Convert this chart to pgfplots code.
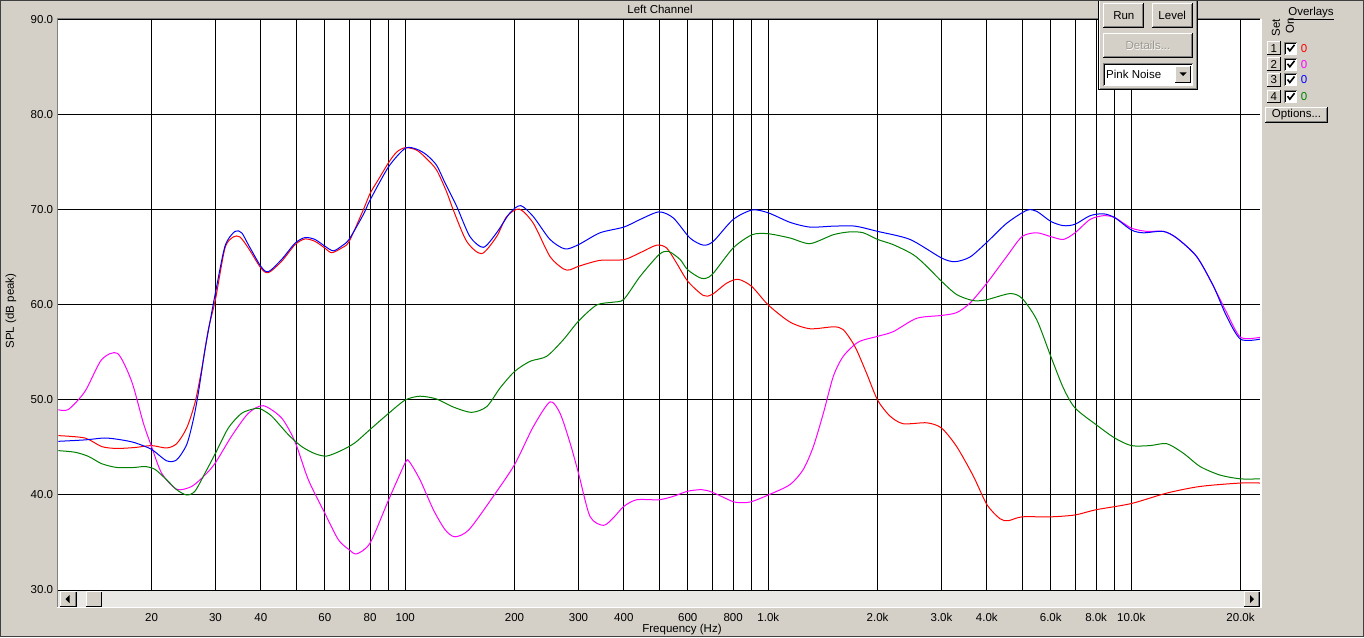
\documentclass[border=0pt]{standalone}
\usepackage{fontspec}
\setmainfont{Liberation Sans}
\usepackage{pgfplots}
\pgfplotsset{compat=1.18}
\definecolor{winbg}{HTML}{D4D0C8}
\definecolor{mag}{HTML}{FF00FF}
\definecolor{grn}{HTML}{008000}
\definecolor{dgray}{HTML}{808080}
\definecolor{scrollbg}{HTML}{EAE8E4}
\definecolor{disabled}{HTML}{9A9890}
\newcommand{\uifont}{\fontsize{11.5}{13}\selectfont}

\begin{document}
\uifont
\begin{tikzpicture}[x=1pt,y=1pt]
\useasboundingbox (0,0) rectangle (1364,637);
\fill[winbg] (0,0) rectangle (1364,637);
\begin{axis}[
  at={(58.3pt,47pt)}, anchor=south west,
  scale only axis, width=1201.7pt, height=570pt,
  xmode=log, xmin=11.07, xmax=22620, ymin=30, ymax=90,
  axis background/.style={fill=white},
  axis line style={draw=none},
  xtick={20,30,40,60,80,100,200,300,400,600,800,1000,2000,3000,4000,6000,8000,10000,20000},
  xticklabels={20,30,40,60,80,100,200,300,400,600,800,1.0k,2.0k,3.0k,4.0k,6.0k,8.0k,10.0k,20.0k},
  minor xtick={50,70,90,500,700,900,5000,7000,9000},
  ytick={30,40,50,60,70,80,90},
  yticklabels={30.0,40.0,50.0,60.0,70.0,80.0,90.0},
  major tick length=0pt, minor tick length=0pt,
  xmajorgrids, xminorgrids, ymajorgrids,
  major grid style={black, line width=1pt},
  minor grid style={black, line width=1pt},
  xticklabel style={anchor=north, inner sep=0pt, yshift=-23pt},
  yticklabel style={anchor=east, inner sep=0pt, xshift=-5pt},
  tick label style={font=\uifont},
  every axis plot/.append style={line width=1pt, smooth, tension=0.45, no markers},
]
% red
\addplot[red] coordinates {
(11.07,46.25)(13.11,46.0)(14.57,45.1)(16.03,44.9)(18.0,45.0)(20,45.2)(22.01,44.95)(23.45,45.4)
(24.99,47.05)(26.34,49.7)(27.48,53.2)(28.67,57.4)(30,60.6)(31.87,66.0)(33.6,67.16)(35.04,67.16)
(36.95,66.0)(40,63.9)(41.95,63.4)(45.65,64.6)(49.68,66.35)(52.94,66.95)(56.39,66.7)(60,66.0)
(62.69,65.5)(66.79,66.0)(70,66.67)(76.6,70.0)(80,71.75)(84.3,73.2)(90,75.0)(94.7,76.1)(100,76.56)
(107.5,76.3)(114.5,75.4)(122,74.2)(130,71.9)(135.6,70.0)(147.6,66.7)(162.3,65.4)(178.5,67.2)
(190.2,69.3)(206.1,70.1)(225.3,68.6)(250.4,65.1)(272.6,63.8)(284.3,63.7)(300,64.07)(343.9,64.7)
(400,64.77)(443.3,65.5)(492.6,66.3)(524.8,66.0)(559.2,64.4)(600,62.5)(662.3,61.0)(700,61.1)
(768.1,62.3)(826.9,62.7)(900,61.96)(1000,60.0)(1148,58.2)(1303,57.5)(1511,57.7)(1609,57.4)
(1734,55.6)(1866,52.8)(2000,50.0)(2165,48.3)(2355,47.5)(2732,47.6)(3000,47.05)(3303,45.1)
(3671,42.0)(4000,39.0)(4348,37.5)(4585,37.3)(5000,37.7)(6000,37.7)(7000,37.9)(8000,38.45)
(10000,39.1)(12520,40.2)(15470,40.9)(20000,41.26)(22620,41.26)
};
% magenta
\addplot[mag] coordinates {
(11.07,48.98)(11.80,49.0)(13.11,50.9)(14.57,54.25)(16.13,54.9)(17.63,51.96)(18.98,47.6)(20,45.1)
(21.32,42.3)(23.45,40.6)(25.79,40.9)(28.07,42.1)(30,43.4)(33.24,46.2)(36.95,48.6)(40.64,49.4)
(45.65,48.1)(49.68,45.6)(54.07,41.6)(60,38.1)(65.39,35.3)(70,34.25)(73.45,33.8)(80,34.95)
(90,39.5)(100,43.4)(102.6,43.5)(109.8,41.6)(119.5,38.45)(128.7,36.35)(137,35.6)(149.8,36.35)
(174.8,39.86)(200,43.2)(225.3,47.2)(250.4,49.8)(266.9,48.6)(284.3,45.5)(300,42.3)(322.7,37.75)
(351.3,36.8)(374.3,37.6)(400,38.8)(434.0,39.5)(500,39.5)(547.5,39.86)(600,40.4)(655.4,40.56)
(700,40.3)(800,39.3)(853.6,39.2)(900,39.3)(1000,40.0)(1148,41.1)(1249,42.7)(1331,45.1)
(1418,48.6)(1511,52.5)(1609,54.6)(1770,56.1)(2000,56.7)(2210,57.2)(2563,58.6)(3000,58.9)
(3303,59.2)(3595,60.2)(4000,62.3)(4536,65.1)(5000,67.2)(5488,67.6)(6000,67.2)(6500,66.9)
(7000,67.6)(7695,69.0)(8375,69.4)(9000,69.2)(10000,68.1)(11020,67.75)(12250,67.75)(13340,67.05)
(15140,65.1)(16830,62.0)(18310,59.2)(20000,56.6)(22620,56.6)
};
% blue
\addplot[blue] coordinates {
(11.07,45.65)(13.11,45.8)(14.88,46.0)(16.54,45.8)(18.0,45.5)(20,44.8)(22.01,43.6)(23.45,43.7)
(24.99,45.3)(26.06,47.9)(26.9,50.7)(28.07,55.3)(29.29,59.2)(30,61.3)(31.87,66.2)(33.95,67.75)
(35.42,67.6)(36.95,66.35)(40,64.07)(41.95,63.5)(45.65,64.8)(49.68,66.5)(52.94,67.1)(56.39,66.9)
(60,66.2)(63.35,65.7)(66.79,66.2)(70,66.9)(76.6,69.5)(80,71.05)(90,74.56)(100,76.5)(107.5,76.4)
(114.5,75.8)(122,74.7)(128.5,72.9)(138.5,70.4)(150.7,67.2)(164.1,66.07)(178.5,67.6)(194.3,69.7)
(207.9,70.46)(225.3,69.3)(250.4,66.9)(275.4,65.9)(300,66.35)(343.9,67.6)(400,68.2)(443.3,69.0)
(500,69.8)(547.5,69.16)(608.6,67.05)(662.3,66.3)(705.6,66.7)(800,69.0)(903,70.0)(1000,69.7)
(1148,68.7)(1303,68.2)(1511,68.3)(1734,68.3)(2000,67.75)(2457,66.9)(3000,64.95)(3268,64.56)
(3595,65.05)(4000,66.6)(4536,68.6)(5149,69.96)(5488,69.86)(6000,68.8)(6500,68.35)(7000,68.5)
(7695,69.4)(8375,69.6)(9000,69.2)(10000,67.9)(10790,67.6)(12250,67.75)(13340,67.05)(15140,65.1)
(16830,62.0)(18310,58.8)(20000,56.4)(22620,56.4)
};
% green
\addplot[grn] coordinates {
(11.07,44.67)(12.31,44.5)(13.39,44.07)(14.57,43.3)(16.03,42.9)(18.0,42.9)(19.18,43.0)(20.44,42.7)
(22.01,41.6)(23.45,40.56)(24.99,40.0)(26.34,40.4)(28.07,42.3)(30,44.4)(32.55,47.05)(35.42,48.6)
(38.55,49.1)(40,49.05)(42.85,48.3)(47.62,46.35)(51.83,45.1)(56.39,44.35)(60.73,44.1)(66.79,44.7)
(72.68,45.5)(80,46.9)(90,48.6)(100,50.0)(109.8,50.4)(122.0,50.1)(135.6,49.26)(152.3,48.7)
(167.6,49.3)(182.4,51.26)(200,53.0)(220.6,54.07)(245.2,54.6)(272.6,56.35)(300,58.3)(336.7,60.0)
(374.3,60.3)(400,60.6)(443.3,63.0)(500,65.3)(530.4,65.65)(571.2,64.8)(600,63.7)(655.4,62.8)
(700,63.2)(800,66.0)(903,67.4)(1000,67.5)(1148,67.05)(1303,66.46)(1511,67.4)(1680,67.7)
(1827,67.6)(2000,66.9)(2210,66.35)(2508,65.3)(2732,64.07)(3000,62.5)(3303,61.1)(3671,60.46)
(4000,60.56)(4634,61.2)(5000,60.7)(5488,58.45)(6000,54.6)(6500,51.26)(7000,49.16)(8000,47.4)
(9000,46.0)(10000,45.2)(11260,45.2)(12520,45.4)(13910,44.4)(15470,43.0)(17550,42.1)(20000,41.7)
(22620,41.7)
};
% tick marks below the scroll bar
\foreach \f in {20,30,40,50,60,70,80,90,100,200,300,400,500,600,700,800,900,1000,2000,3000,4000,5000,6000,7000,8000,9000,10000,20000}{
  \edef\temp{\noexpand\draw[black, line width=1pt] (axis cs:\f,30) ++(0,-17) -- ++(0,-3.5);}
  \temp
}
\end{axis}
% plot frame (sunken border)
\draw[dgray, line width=1.6pt] (57.4,29.5) -- (57.4,617.8) -- (1260,617.8);
\draw[black, line width=1pt] (58.3,617.5) -- (1260,617.5);
\draw[white, line width=1.5pt] (1261,30) -- (1261,618);
\draw[white, line width=1pt] (57.4,29.5) -- (1262,29.5);
% scroll bar
\fill[scrollbg] (58.3,30) rectangle (1260,47);
\draw[black, line width=1pt] (58.3,47) -- (1260,47);
\foreach \a/\b in {60.3/75.9, 86.2/101.8, 1244.3/1259.3}{
  \fill[winbg] (\a,30.3) rectangle (\b,45.3);
  \draw[white, line width=1pt] (\a,30.3) -- (\a,45.3) -- (\b,45.3);
  \draw[dgray, line width=1pt] (\a,30.8) -- (\b-0.5,30.8) -- (\b-0.5,45.3);
  \draw[black, line width=0.8pt] (\a,30.3) -- (\b,30.3) -- (\b,45.3);
}
\fill[black] (65.5,37.8) -- (69.5,41.8) -- (69.5,33.8) -- cycle;
\fill[black] (1254,37.8) -- (1250,41.8) -- (1250,33.8) -- cycle;
% titles
\node[font=\uifont] at (660,628) {Left Channel};
\node[font=\uifont, rotate=90] at (11,326) {SPL (dB peak)};
\node[font=\uifont] at (682,7.5) {Frequency (Hz)};
% top control panel
\fill[winbg] (1098.3,547) rectangle (1197.7,637);
\draw[black, line width=1pt] (1098.3,637) -- (1098.3,547) -- (1197.7,547) -- (1197.7,637);
\draw[white, line width=1pt] (1099.5,637) -- (1099.5,548.2);
\draw[dgray, line width=1pt] (1100,548.2) -- (1196.5,548.2) -- (1196.5,637);
\foreach \a/\b/\c/\d in {1103.3/1144.3/608.7/633.7, 1151.7/1192.7/608.7/633.7, 1103.3/1192.7/578.7/603.7}{
  \fill[winbg] (\a,\c) rectangle (\b,\d);
  \draw[white, line width=1pt] (\a+0.5,\c) -- (\a+0.5,\d-0.5) -- (\b,\d-0.5);
  \draw[dgray, line width=1pt] (\a+1,\c+1.5) -- (\b-1.5,\c+1.5) -- (\b-1.5,\d-1);
  \draw[black, line width=1pt] (\a,\c+0.5) -- (\b-0.5,\c+0.5) -- (\b-0.5,\d);
}
\node[font=\uifont] at (1123.8,621.2) {Run};
\node[font=\uifont] at (1172.2,621.2) {Level};
\node[font=\uifont, text=white] at (1148.5,590.2) {Details...};
\node[font=\uifont, text=disabled] at (1148,591.2) {Details...};
\fill[white] (1103.3,551.3) rectangle (1192.7,573.7);
\draw[dgray, line width=1pt] (1103.3,551.3) -- (1103.3,573.2) -- (1192.7,573.2);
\draw[black, line width=1pt] (1104.3,552) -- (1104.3,572.2) -- (1192,572.2);
\node[font=\uifont, anchor=west, inner sep=0pt] at (1106,562.5) {Pink Noise};
\fill[winbg] (1175,553.7) rectangle (1191,571.3);
\draw[white, line width=1pt] (1175.5,553.7) -- (1175.5,570.8) -- (1191,570.8);
\draw[black, line width=1pt] (1175,554.2) -- (1190.5,554.2) -- (1190.5,571.3);
\fill[black] (1179.5,564.5) -- (1186.5,564.5) -- (1183,561) -- cycle;
% overlays panel
\node[font=\uifont, inner sep=0pt] (ov) at (1311,624) {Overlays};
\draw[black, line width=0.8pt] (1288.5,617.8) -- (1333.5,617.8);
\node[font=\uifont, rotate=90] at (1276,609) {Set};
\node[font=\uifont, rotate=90] at (1290,611) {On};
\foreach \y/\n/\c in {588.7/1/red, 572.7/2/mag, 557/3/blue, 540.3/4/grn}{
  \fill[winbg] (1267,\y-6.8) rectangle (1280.5,\y+6.8);
  \draw[white, line width=1pt] (1267.5,\y-6.8) -- (1267.5,\y+6.3) -- (1280.5,\y+6.3);
  \draw[black, line width=1pt] (1267,\y-6.3) -- (1280,\y-6.3) -- (1280,\y+6.8);
  \node[font=\uifont, inner sep=0pt] at (1273.8,\y) {\n};
  \fill[white] (1284,\y-6.5) rectangle (1297,\y+6.5);
  \draw[dgray, line width=1pt] (1284,\y-6.5) -- (1284,\y+6) -- (1297,\y+6);
  \draw[black, line width=1pt] (1285,\y-5.5) -- (1285,\y+5) -- (1296,\y+5);
  \draw[black, line width=1.6pt] (1287.5,\y+0.5) -- (1289.8,\y-2.5) -- (1294.5,\y+3.5);
  \node[font=\uifont, text=\c, inner sep=0pt] at (1304,\y) {0};
}
\fill[winbg] (1265,514) rectangle (1328,530);
\draw[white, line width=1pt] (1265.5,514) -- (1265.5,529.5) -- (1328,529.5);
\draw[dgray, line width=1pt] (1266,515.5) -- (1326.5,515.5) -- (1326.5,529);
\draw[black, line width=1pt] (1265,514.5) -- (1327.5,514.5) -- (1327.5,530);
\node[font=\uifont] at (1296.5,522) {Options...};
% outer window border
\draw[black!75, line width=1pt] (0.5,0.5) rectangle (1363.5,636.5);
\end{tikzpicture}
\end{document}
